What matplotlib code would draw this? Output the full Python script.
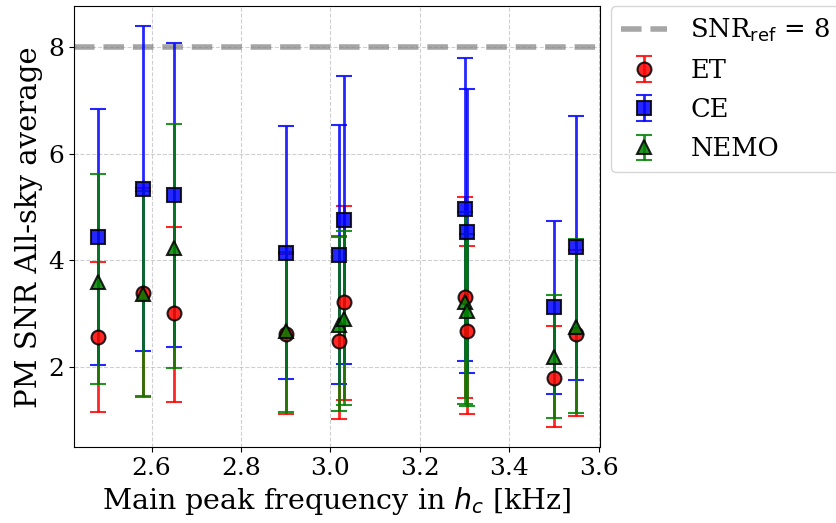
import numpy as np
import matplotlib
matplotlib.use('Agg')
import matplotlib.pyplot as plt

plt.rcParams['font.family'] = 'DejaVu Serif'
plt.rcParams['mathtext.fontset'] = 'dejavusans'

# main peak frequency [kHz]
freq = [2.48, 2.58, 2.65, 2.90, 3.02, 3.03, 3.30, 3.305, 3.50, 3.55]

# ET: value, lower, upper
et_val = [2.57, 3.39, 3.02, 2.61, 2.49, 3.21, 3.32, 2.68, 1.80, 2.61]
et_lo = [1.16, 1.43, 1.35, 1.12, 1.02, 1.37, 1.41, 1.11, 0.87, 1.07]
et_up = [3.96, 5.35, 4.63, 4.12, 4.45, 5.02, 5.19, 4.27, 2.76, 4.20]

# CE
ce_val = [4.44, 5.34, 5.23, 4.14, 4.10, 4.76, 4.97, 4.54, 3.13, 4.25]
ce_lo = [2.03, 2.29, 2.38, 1.78, 1.67, 2.06, 2.12, 1.88, 1.50, 1.76]
ce_up = [6.84, 8.39, 8.07, 6.52, 6.54, 7.46, 7.79, 7.21, 4.74, 6.71]

# NEMO
nemo_val = [3.60, 3.37, 4.24, 2.68, 2.79, 2.89, 3.21, 3.04, 2.18, 2.74]
nemo_lo = [1.67, 1.46, 1.97, 1.16, 1.18, 1.28, 1.30, 1.27, 1.05, 1.14]
nemo_up = [5.62, 5.30, 6.56, 4.15, 4.44, 4.55, 4.90, 4.50, 3.34, 4.40]

snr_ref = 8


def yerr(val, lo, up):
    val, lo, up = np.array(val), np.array(lo), np.array(up)
    return [val - lo, up - val]


fig, ax = plt.subplots(figsize=(8.36, 5.23), dpi=100)
fig.subplots_adjust(left=0.0885, right=0.718, top=0.988, bottom=0.145)

ax.axhline(snr_ref, color='gray', ls='--', lw=4, alpha=0.7,
           label=r'SNR$_{\rm ref}$ = 8')

common = dict(capsize=5.5, capthick=2, elinewidth=2, markersize=10,
              markeredgecolor='black', markeredgewidth=1.5, ls='none')
ax.errorbar(freq, et_val, yerr=yerr(et_val, et_lo, et_up), fmt='o',
            color='red', alpha=0.85, label='ET', **common)
ax.errorbar(freq, ce_val, yerr=yerr(ce_val, ce_lo, ce_up), fmt='s',
            color='blue', alpha=0.85, label='CE', **common)
ax.errorbar(freq, nemo_val, yerr=yerr(nemo_val, nemo_lo, nemo_up), fmt='^',
            color='green', alpha=0.85, label='NEMO', **common)

ax.grid(True, ls='--', alpha=0.6)
ax.set_yticks([2, 4, 6, 8])
ax.tick_params(labelsize=18)
ax.set_xlabel(r'Main peak frequency in $h_c$ [kHz]', fontsize=20.5)
ax.set_ylabel('PM SNR All-sky average', fontsize=21)

ax.legend(loc='upper left', bbox_to_anchor=(1.02, 1.0), borderaxespad=0,
          fontsize=18.5, handlelength=1.8, handletextpad=0.9,
          labelspacing=0.55)

fig.savefig('out.png')
